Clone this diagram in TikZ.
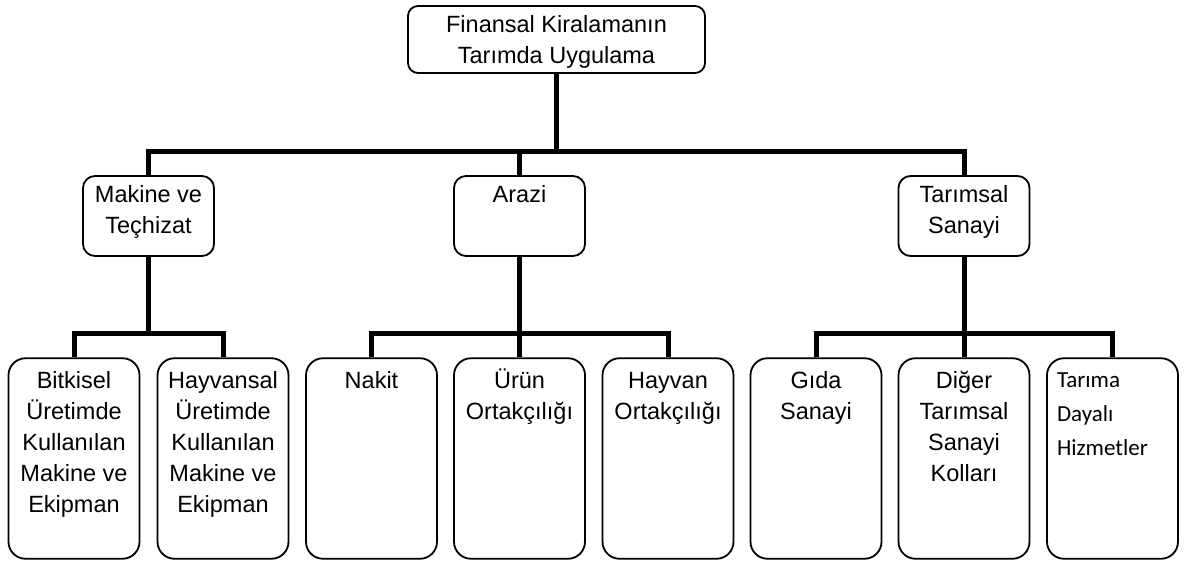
\documentclass[tikz,border=0pt]{standalone}
\usepackage{fontspec}
\setmainfont{Liberation Sans}
\newfontfamily\calibfont{Carlito}
\tikzset{
  box/.style={draw, fill=white, line width=1.8pt, inner sep=0pt, minimum width=131pt,
    font=\fontsize{23.5}{31}\selectfont},
  headbox/.style={box, rounded corners=10pt, minimum width=297pt, minimum height=67pt,
    execute at begin node={\begin{minipage}[c][56.4pt][t]{290pt}\centering\strut},
    execute at end node={\end{minipage}}},
  midbox/.style={box, rounded corners=12pt, minimum height=80pt,
    execute at begin node={\begin{minipage}[c][69.4pt][t]{124pt}\centering\strut},
    execute at end node={\end{minipage}}},
  leafbox/.style={box, rounded corners=17pt, minimum height=200.5pt,
    execute at begin node={\begin{minipage}[c][183.9pt][t]{124pt}\centering\strut},
    execute at end node={\end{minipage}}},
  leftleaf/.style={box, rounded corners=17pt, minimum height=200.5pt,
    font=\calibfont\fontsize{23}{34}\selectfont,
    execute at begin node={\begin{minipage}[c][190pt][t]{111pt}\raggedright\strut},
    execute at end node={\end{minipage}}},
  link/.style={line width=5pt}
}
\begin{document}
\begin{tikzpicture}[x=1pt, y=-1pt]
    \useasboundingbox (0,0) rectangle (1196,561);
    \node[headbox] (fin) at (556.5,39.5) {Finansal Kiralamanın\\Tarımda Uygulama};
    \node[midbox] (mak) at (148.5,216) {Makine ve\\Teçhizat};
    \node[midbox] (ara) at (519.5,216) {Arazi};
    \node[midbox] (tsa) at (964,216) {Tarımsal\\Sanayi};
    \node[leafbox] (bit) at (74,458.5) {Bitkisel\\Üretimde\\Kullanılan\\Makine ve\\Ekipman};
    \node[leafbox] (hys) at (223,458.5) {Hayvansal\\Üretimde\\Kullanılan\\Makine ve\\Ekipman};
    \node[leafbox] (nak) at (371.5,458.5) {Nakit};
    \node[leafbox] (urn) at (519.5,458.5) {Ürün\\Ortakçılığı};
    \node[leafbox] (hyv) at (668,458.5) {Hayvan\\Ortakçılığı};
    \node[leafbox] (gid) at (816,458.5) {Gıda\\Sanayi};
    \node[leafbox] (dig) at (964,458.5) {Diğer\\Tarımsal\\Sanayi\\Kolları};
    \node[leftleaf] (tdh) at (1112.5,458.5) {Tarıma\\Dayalı\\Hizmetler};
    \coordinate (topbar) at (556.5,152);
    \coordinate (lowbar) at (0,333);
    \draw[link] (fin) -- (topbar);
    \draw[link] (mak.north) |- (topbar) -| (tsa.north);
    \draw[link] (ara.north) -- (ara.north |- topbar);
    \draw[link] (mak) -- (mak.south |- lowbar);
    \draw[link] (bit.north) |- (mak.south |- lowbar) -| (hys.north);
    \draw[link] (ara) -- (urn);
    \draw[link] (nak.north) |- (urn.north |- lowbar) -| (hyv.north);
    \draw[link] (tsa) -- (dig);
    \draw[link] (gid.north) |- (dig.north |- lowbar) -| (tdh.north);
\end{tikzpicture}
\end{document}
